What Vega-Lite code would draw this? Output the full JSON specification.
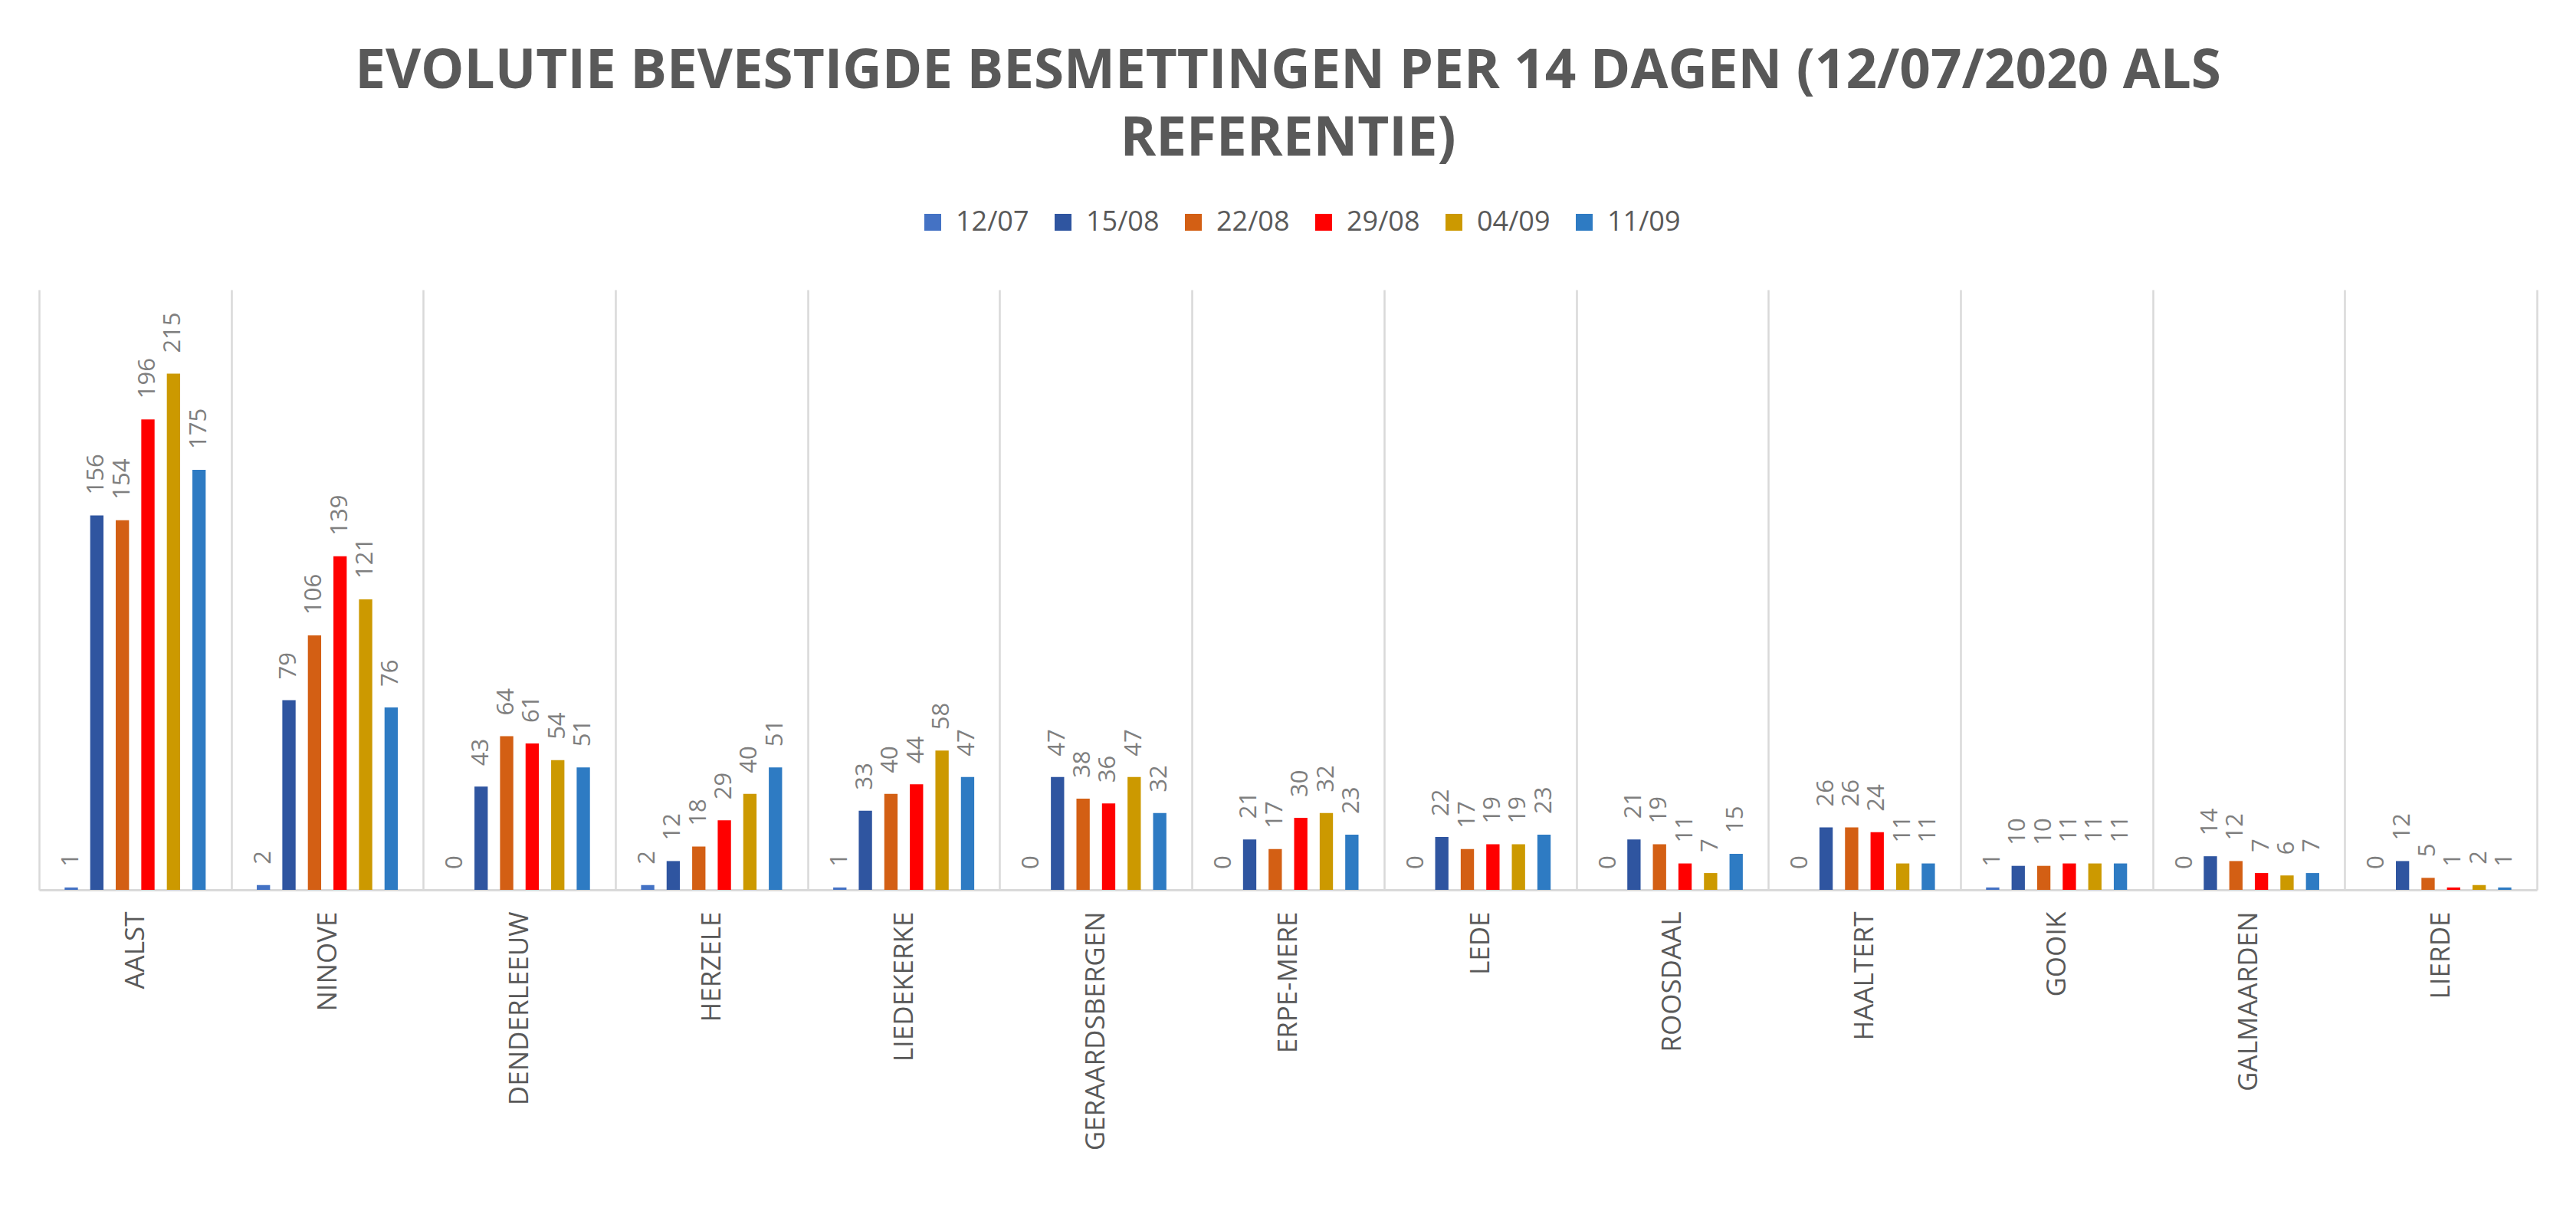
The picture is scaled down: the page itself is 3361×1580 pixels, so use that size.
{
  "$schema": "https://vega.github.io/schema/vega-lite/v6.json",
  "autosize": "none",
  "width": 3259,
  "height": 783,
  "padding": {"left": 51, "top": 378, "right": 51, "bottom": 419},
  "background": "white",
  "title": {
    "text": ["EVOLUTIE BEVESTIGDE BESMETTINGEN PER 14 DAGEN (12/07/2020 ALS", "REFERENTIE)"],
    "font": "Open Sans",
    "fontWeight": "bold",
    "fontSize": 71,
    "lineHeight": 88,
    "color": "#595959",
    "anchor": "middle",
    "offset": 54
  },
  "data": {
    "values": [
      {"gemeente": "AALST", "datum": "12/07", "aantal": 1},
      {"gemeente": "AALST", "datum": "15/08", "aantal": 156},
      {"gemeente": "AALST", "datum": "22/08", "aantal": 154},
      {"gemeente": "AALST", "datum": "29/08", "aantal": 196},
      {"gemeente": "AALST", "datum": "04/09", "aantal": 215},
      {"gemeente": "AALST", "datum": "11/09", "aantal": 175},
      {"gemeente": "NINOVE", "datum": "12/07", "aantal": 2},
      {"gemeente": "NINOVE", "datum": "15/08", "aantal": 79},
      {"gemeente": "NINOVE", "datum": "22/08", "aantal": 106},
      {"gemeente": "NINOVE", "datum": "29/08", "aantal": 139},
      {"gemeente": "NINOVE", "datum": "04/09", "aantal": 121},
      {"gemeente": "NINOVE", "datum": "11/09", "aantal": 76},
      {"gemeente": "DENDERLEEUW", "datum": "12/07", "aantal": 0},
      {"gemeente": "DENDERLEEUW", "datum": "15/08", "aantal": 43},
      {"gemeente": "DENDERLEEUW", "datum": "22/08", "aantal": 64},
      {"gemeente": "DENDERLEEUW", "datum": "29/08", "aantal": 61},
      {"gemeente": "DENDERLEEUW", "datum": "04/09", "aantal": 54},
      {"gemeente": "DENDERLEEUW", "datum": "11/09", "aantal": 51},
      {"gemeente": "HERZELE", "datum": "12/07", "aantal": 2},
      {"gemeente": "HERZELE", "datum": "15/08", "aantal": 12},
      {"gemeente": "HERZELE", "datum": "22/08", "aantal": 18},
      {"gemeente": "HERZELE", "datum": "29/08", "aantal": 29},
      {"gemeente": "HERZELE", "datum": "04/09", "aantal": 40},
      {"gemeente": "HERZELE", "datum": "11/09", "aantal": 51},
      {"gemeente": "LIEDEKERKE", "datum": "12/07", "aantal": 1},
      {"gemeente": "LIEDEKERKE", "datum": "15/08", "aantal": 33},
      {"gemeente": "LIEDEKERKE", "datum": "22/08", "aantal": 40},
      {"gemeente": "LIEDEKERKE", "datum": "29/08", "aantal": 44},
      {"gemeente": "LIEDEKERKE", "datum": "04/09", "aantal": 58},
      {"gemeente": "LIEDEKERKE", "datum": "11/09", "aantal": 47},
      {"gemeente": "GERAARDSBERGEN", "datum": "12/07", "aantal": 0},
      {"gemeente": "GERAARDSBERGEN", "datum": "15/08", "aantal": 47},
      {"gemeente": "GERAARDSBERGEN", "datum": "22/08", "aantal": 38},
      {"gemeente": "GERAARDSBERGEN", "datum": "29/08", "aantal": 36},
      {"gemeente": "GERAARDSBERGEN", "datum": "04/09", "aantal": 47},
      {"gemeente": "GERAARDSBERGEN", "datum": "11/09", "aantal": 32},
      {"gemeente": "ERPE-MERE", "datum": "12/07", "aantal": 0},
      {"gemeente": "ERPE-MERE", "datum": "15/08", "aantal": 21},
      {"gemeente": "ERPE-MERE", "datum": "22/08", "aantal": 17},
      {"gemeente": "ERPE-MERE", "datum": "29/08", "aantal": 30},
      {"gemeente": "ERPE-MERE", "datum": "04/09", "aantal": 32},
      {"gemeente": "ERPE-MERE", "datum": "11/09", "aantal": 23},
      {"gemeente": "LEDE", "datum": "12/07", "aantal": 0},
      {"gemeente": "LEDE", "datum": "15/08", "aantal": 22},
      {"gemeente": "LEDE", "datum": "22/08", "aantal": 17},
      {"gemeente": "LEDE", "datum": "29/08", "aantal": 19},
      {"gemeente": "LEDE", "datum": "04/09", "aantal": 19},
      {"gemeente": "LEDE", "datum": "11/09", "aantal": 23},
      {"gemeente": "ROOSDAAL", "datum": "12/07", "aantal": 0},
      {"gemeente": "ROOSDAAL", "datum": "15/08", "aantal": 21},
      {"gemeente": "ROOSDAAL", "datum": "22/08", "aantal": 19},
      {"gemeente": "ROOSDAAL", "datum": "29/08", "aantal": 11},
      {"gemeente": "ROOSDAAL", "datum": "04/09", "aantal": 7},
      {"gemeente": "ROOSDAAL", "datum": "11/09", "aantal": 15},
      {"gemeente": "HAALTERT", "datum": "12/07", "aantal": 0},
      {"gemeente": "HAALTERT", "datum": "15/08", "aantal": 26},
      {"gemeente": "HAALTERT", "datum": "22/08", "aantal": 26},
      {"gemeente": "HAALTERT", "datum": "29/08", "aantal": 24},
      {"gemeente": "HAALTERT", "datum": "04/09", "aantal": 11},
      {"gemeente": "HAALTERT", "datum": "11/09", "aantal": 11},
      {"gemeente": "GOOIK", "datum": "12/07", "aantal": 1},
      {"gemeente": "GOOIK", "datum": "15/08", "aantal": 10},
      {"gemeente": "GOOIK", "datum": "22/08", "aantal": 10},
      {"gemeente": "GOOIK", "datum": "29/08", "aantal": 11},
      {"gemeente": "GOOIK", "datum": "04/09", "aantal": 11},
      {"gemeente": "GOOIK", "datum": "11/09", "aantal": 11},
      {"gemeente": "GALMAARDEN", "datum": "12/07", "aantal": 0},
      {"gemeente": "GALMAARDEN", "datum": "15/08", "aantal": 14},
      {"gemeente": "GALMAARDEN", "datum": "22/08", "aantal": 12},
      {"gemeente": "GALMAARDEN", "datum": "29/08", "aantal": 7},
      {"gemeente": "GALMAARDEN", "datum": "04/09", "aantal": 6},
      {"gemeente": "GALMAARDEN", "datum": "11/09", "aantal": 7},
      {"gemeente": "LIERDE", "datum": "12/07", "aantal": 0},
      {"gemeente": "LIERDE", "datum": "15/08", "aantal": 12},
      {"gemeente": "LIERDE", "datum": "22/08", "aantal": 5},
      {"gemeente": "LIERDE", "datum": "29/08", "aantal": 1},
      {"gemeente": "LIERDE", "datum": "04/09", "aantal": 2},
      {"gemeente": "LIERDE", "datum": "11/09", "aantal": 1}
    ]
  },
  "encoding": {
    "x": {
      "field": "gemeente",
      "type": "nominal",
      "sort": null,
      "scale": {"paddingInner": 0, "paddingOuter": 0},
      "axis": {
        "title": null,
        "labelAngle": -90,
        "labelFont": "Open Sans",
        "labelFontSize": 35,
        "labelColor": "#595959",
        "labelPadding": 28,
        "labelLimit": 1000,
        "ticks": false,
        "tickBand": "extent",
        "grid": true,
        "gridColor": "#D9D9D9",
        "gridWidth": 2.5,
        "domainColor": "#D9D9D9",
        "domainWidth": 3
      }
    },
    "xOffset": {
      "field": "datum",
      "type": "nominal",
      "sort": ["12/07", "15/08", "22/08", "29/08", "04/09", "11/09"],
      "scale": {"paddingInner": 0.48, "paddingOuter": 1.18}
    },
    "y": {
      "field": "aantal",
      "type": "quantitative",
      "scale": {"domain": [0, 250], "nice": false},
      "axis": null
    }
  },
  "layer": [
    {
      "mark": {"type": "bar"},
      "encoding": {
        "color": {
          "field": "datum",
          "type": "nominal",
          "sort": ["12/07", "15/08", "22/08", "29/08", "04/09", "11/09"],
          "scale": {
            "domain": ["12/07", "15/08", "22/08", "29/08", "04/09", "11/09"],
            "range": ["#4472C4", "#2F55A0", "#D35F14", "#FF0000", "#CC9900", "#2E7BC3"]
          },
          "legend": {
            "title": null,
            "orient": "none",
            "legendX": 1148,
            "legendY": -106,
            "direction": "horizontal",
            "symbolType": "square",
            "symbolSize": 484,
            "symbolStrokeWidth": 0,
            "labelFont": "Open Sans",
            "labelFontSize": 36,
            "labelColor": "#595959",
            "labelOffset": 12,
            "columnPadding": 26
          }
        }
      }
    },
    {
      "mark": {
        "type": "text",
        "angle": 270,
        "align": "left",
        "baseline": "middle",
        "dx": 27,
        "font": "Open Sans",
        "fontSize": 31,
        "color": "#7F7F7F"
      },
      "encoding": {
        "text": {"field": "aantal", "type": "quantitative"}
      }
    }
  ],
  "config": {
    "view": {"stroke": null}
  }
}
